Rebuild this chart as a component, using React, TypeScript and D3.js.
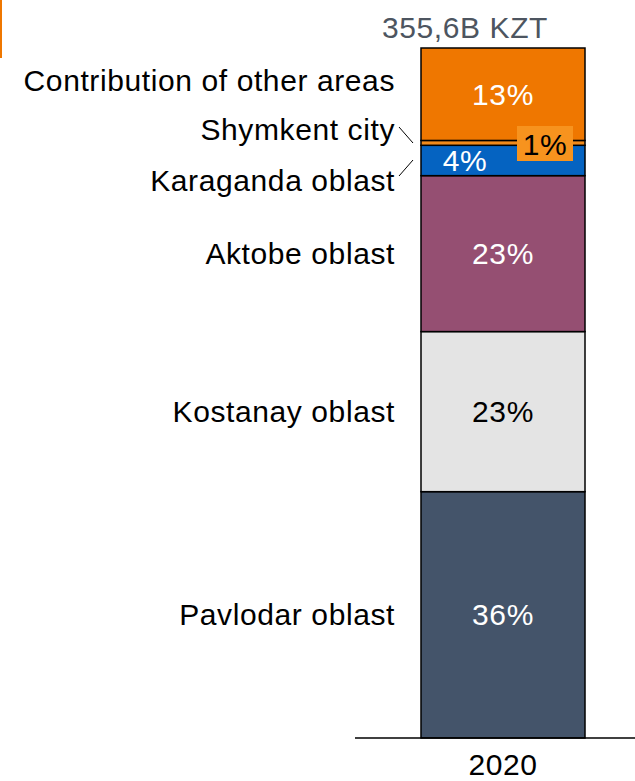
import React from "react";
import * as d3 from "d3";

// share of total, %, bottom to top
const regions = ["Pavlodar oblast", "Kostanay oblast", "Aktobe oblast", "Karaganda oblast", "Shymkent city", "Contribution of other areas"];
const shares = [35.7, 23.2, 22.6, 4.4, 0.7, 13.4];
const colors = ["#44546A", "#E4E4E4", "#954F72", "#0563C1", "#F08A1C", "#EF7700"];
const textColors = ["#fff", "#000", "#fff", "#fff", "#000", "#fff"];
const year = "2020";
const totalLabel = "355,6B KZT";

const W = 635;
const H = 781;

export default function App() {
  const y = d3.scaleLinear().domain([0, 100]).range([738, 48]);
  const x = d3.scaleBand().domain([year]).range([421, 585]).padding(0);
  const bx = x(year)!;
  const bw = x.bandwidth();
  const cx = bx + bw / 2;
  const fmt = d3.format(".0%");
  const fs = 30;
  const ls = 0.6;

  let acc = 0;
  const segs = shares.map((v, i) => {
    const s = { name: regions[i], v, y0: acc, y1: acc + v, i };
    acc += v;
    return s;
  });

  const font = "'Liberation Sans', Arial, sans-serif";

  return (
    <svg width={W} height={H} style={{ position: "absolute", left: 0, top: 0, fontFamily: font }}>
      <rect x={0} y={0} width={2} height={58} fill="#EF7700" />
      {segs.map((s) => (
        <rect key={s.name} x={bx} y={y(s.y1)} width={bw} height={y(s.y0) - y(s.y1)}
          fill={colors[s.i]} stroke="#000" strokeWidth={1.5} />
      ))}
      {/* value labels */}
      {segs.map((s) => {
        const mid = (y(s.y0) + y(s.y1)) / 2;
        if (s.i === 4) {
          return (
            <g key={s.name}>
              <rect x={517} y={126} width={56} height={35} fill="#F7931E" />
              <text x={545} y={144} fontSize={fs} letterSpacing={ls} textAnchor="middle" dominantBaseline="central" fill="#000">{fmt(s.v / 100)}</text>
            </g>
          );
        }
        const tx = s.i === 3 ? 465 : cx;
        const ty = s.i === 3 ? 160 : mid;
        return (
          <text key={s.name} x={tx} y={ty} fontSize={fs} letterSpacing={ls} textAnchor="middle" dominantBaseline="central" fill={textColors[s.i]}>
            {fmt(s.v / 100)}
          </text>
        );
      })}
      {/* category labels */}
      {segs.map((s) => {
        let ly = (y(s.y0) + y(s.y1)) / 2;
        if (s.i === 5) ly = 80;
        if (s.i === 4) ly = 129;
        if (s.i === 3) ly = 180;
        return (
          <text key={s.name} x={395} y={ly} fontSize={fs} letterSpacing={ls} textAnchor="end" dominantBaseline="central" fill="#000">
            {s.name}
          </text>
        );
      })}
      <line x1={399} y1={127} x2={413} y2={143} stroke="#000" strokeWidth={1} />
      <line x1={399} y1={176} x2={413} y2={160} stroke="#000" strokeWidth={1} />
      <line x1={355} y1={738} x2={635} y2={738} stroke="#000" strokeWidth={1.5} />
      <text x={cx} y={775} fontSize={fs} letterSpacing={ls} textAnchor="middle" fill="#000">{year}</text>
      <text x={465} y={27} fontSize={fs} letterSpacing={ls} textAnchor="middle" dominantBaseline="central" fill="#4D5560">{totalLabel}</text>
    </svg>
  );
}
